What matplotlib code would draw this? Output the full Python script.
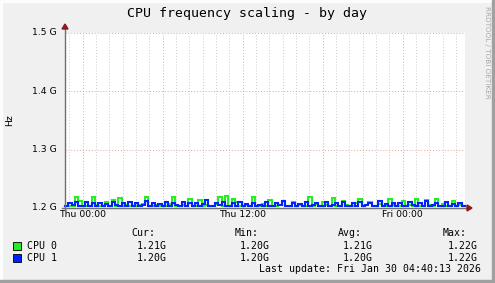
import matplotlib
matplotlib.use("Agg")
import matplotlib.pyplot as plt
from matplotlib.patches import Rectangle, Polygon
import numpy as np

# ---- data (MHz), 15-minute samples from Wed 22:40 to Fri 04:40 ----
cpu0_mhz = [1203,1204,1203,1219,1212,1203,1204,1203,1218,1205,
            1203,1204,1210,1203,1213,1204,1217,1203,1205,1203,
            1204,1203,1205,1206,1219,1204,1203,1205,1203,1204,
            1203,1206,1219,1204,1203,1205,1203,1216,1204,1203,
            1214,1203,1205,1204,1203,1206,1218,1204,1221,1203,
            1216,1211,1204,1203,1205,1204,1219,1203,1204,1206,
            1203,1213,1204,1203,1205,1212,1203,1204,1210,1203,
            1205,1204,1203,1218,1204,1206,1203,1211,1205,1203,
            1217,1204,1203,1212,1205,1203,1204,1208,1216,1203,
            1205,1211,1204,1203,1206,1204,1203,1216,1205,1203,
            1204,1212,1203,1205,1204,1215,1203,1204,1214,1205,
            1203,1215,1204,1206,1203,1204,1212,1203,1205,1204]
cpu1_mhz = [1204,1209,1205,1210,1204,1203,1211,1204,1208,1204,
            1209,1204,1207,1203,1210,1205,1204,1208,1203,1211,
            1204,1208,1203,1205,1212,1204,1209,1203,1207,1204,
            1210,1203,1208,1205,1204,1211,1203,1208,1204,1209,
            1203,1207,1213,1204,1203,1208,1205,1210,1203,1204,
            1208,1203,1211,1204,1207,1203,1209,1204,1205,1203,
            1210,1204,1203,1208,1205,1212,1203,1204,1208,1203,
            1207,1204,1210,1203,1205,1209,1203,1204,1211,1203,
            1205,1208,1203,1210,1204,1203,1208,1204,1211,1203,
            1205,1209,1203,1204,1212,1203,1207,1204,1209,1203,
            1208,1204,1203,1210,1205,1203,1208,1204,1212,1203,
            1205,1209,1204,1203,1210,1204,1207,1203,1208,1204]
series_names = ["CPU 0", "CPU 1"]
series_colors = ["#22EE22", "#0022FF"]
legend_cur = ["1.21G", "1.20G"]
legend_min = ["1.20G", "1.20G"]
legend_avg = ["1.21G", "1.20G"]
legend_max = ["1.22G", "1.22G"]
ytick_vals = [1.2e9, 1.3e9, 1.4e9, 1.5e9]
ytick_labels = ["1.2 G", "1.3 G", "1.4 G", "1.5 G"]
xtick_hours = [0, 12, 24]
xtick_labels = ["Thu 00:00", "Thu 12:00", "Fri 00:00"]
t_start, t_end = -4/3, 28 + 2/3
title = "CPU frequency scaling - by day"
last_update = "Last update: Fri Jan 30 04:40:13 2026"

W, H = 495, 283
fig = plt.figure(figsize=(W/100, H/100), dpi=100)
fig.patch.set_facecolor("#F0F0F0")

def fx(px): return px / W
def fy(py): return 1 - py / H

# 3D border
fig.patches.append(Rectangle((fx(W-3), 0), fx(3), 1, transform=fig.transFigure, color="#A0A0A0", zorder=-5))
fig.patches.append(Rectangle((0, 0), 1, 3/H, transform=fig.transFigure, color="#A0A0A0", zorder=-5))
fig.patches.append(Rectangle((0, fy(2)), 1, 2/H, transform=fig.transFigure, color="#FCFCFC", zorder=-6))
fig.patches.append(Rectangle((0, 0), 2/W, 1, transform=fig.transFigure, color="#FCFCFC", zorder=-6))

x0, x1, ytop, ybot = 65, 465, 33, 208
ax = fig.add_axes([fx(x0), fy(ybot), (x1-x0)/W, (ybot-ytop)/H])
ax.set_facecolor("white")
ax.set_xlim(t_start, t_end)
ax.set_ylim(1.2e9, 1.5e9)
for s in ax.spines.values():
    s.set_visible(False)
ax.tick_params(length=0)
ax.set_xticks([]); ax.set_yticks([])

# grid
for h in range(-1, 29):
    if h % 6 == 0:
        ax.axvline(h, color="#E8A0A0", lw=0.7, ls=(0, (1, 2)), zorder=1)
    else:
        ax.axvline(h, color="#CCCCCC", lw=0.7, ls=(0, (1, 2)), zorder=1)
for v in ytick_vals[1:]:
    ax.axhline(v, color="#E8A0A0", lw=0.7, ls=(0, (1, 2)), zorder=1)

t = t_start + np.arange(len(cpu0_mhz)) * 0.25
for vals, c in zip([cpu0_mhz, cpu1_mhz], series_colors):
    y = np.array(vals) * 1e6
    ax.step(np.append(t, t[-1] + 0.25), np.append(y, y[-1]), where="post",
            color=c, lw=1.5, zorder=3, clip_on=False, solid_joinstyle="miter")

# axis lines
fig.add_artist(plt.Line2D([fx(x0), fx(x0)], [fy(ybot+2), fy(29)], transform=fig.transFigure, color="#707070", lw=1, zorder=5))
fig.add_artist(plt.Line2D([fx(x0-3), fx(x1+2)], [fy(ybot), fy(ybot)], transform=fig.transFigure, color="#707070", lw=1, zorder=5))
fig.add_artist(Polygon([[fx(x0-3), fy(29)], [fx(x0+3), fy(29)], [fx(x0), fy(24)]], closed=True,
                       transform=fig.transFigure, color="#8B1A1A", zorder=6))
fig.add_artist(Polygon([[fx(x1+2), fy(ybot-3)], [fx(x1+2), fy(ybot+3)], [fx(x1+7), fy(ybot)]], closed=True,
                       transform=fig.transFigure, color="#8B1A1A", zorder=6))

# tick labels
for v, lab in zip(ytick_vals, ytick_labels):
    yp = ybot - (v - 1.2e9) / 0.3e9 * (ybot - ytop)
    fig.text(fx(57), fy(yp), lab, ha="right", va="center", fontsize=6.7, family="DejaVu Sans", color="#000000")
for h, lab in zip(xtick_hours, xtick_labels):
    xp = x0 + (h - t_start) / (t_end - t_start) * (x1 - x0)
    fig.text(fx(xp), fy(210), lab, ha="center", va="top", fontsize=6.7, family="DejaVu Sans")

fig.text(fx(10), fy(120), "Hz", rotation=90, ha="center", va="center", fontsize=6.7, family="DejaVu Sans")
fig.text(fx(247), fy(14), title, ha="center", va="center", fontsize=9.5, family="DejaVu Sans Mono")
fig.text(fx(487), fy(6), "RRDTOOL / TOBI OETIKER", rotation=270, ha="center", va="top",
         fontsize=5.2, family="DejaVu Sans", color="#A8A8A8")

# legend
mono = dict(family="DejaVu Sans Mono", fontsize=7.1, va="center")
headers = ["Cur:", "Min:", "Avg:", "Max:"]
hx = [131, 235, 338, 443]
vx = [137, 240, 343, 448]
for xx, hd in zip(hx, headers):
    fig.text(fx(xx), fy(233), hd, ha="left", **mono)
rows_y = [246, 258]
for i, (nm, c) in enumerate(zip(series_names, series_colors)):
    yy = rows_y[i]
    fig.patches.append(Rectangle((fx(13), fy(yy+4)), 8/W, 8/H, transform=fig.transFigure,
                                 facecolor=c, edgecolor="black", lw=0.6))
    fig.text(fx(27), fy(yy), nm, ha="left", **mono)
    for xx, val in zip(vx, [legend_cur[i], legend_min[i], legend_avg[i], legend_max[i]]):
        fig.text(fx(xx), fy(yy), val, ha="left", **mono)
fig.text(fx(481), fy(269), last_update, ha="right", **mono)

fig.savefig("out.png", dpi=100, facecolor=fig.get_facecolor())
